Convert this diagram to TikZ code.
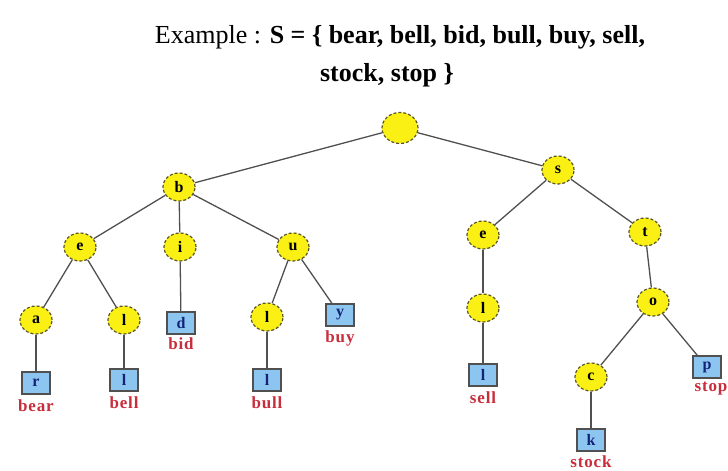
\documentclass[tikz,border=0pt]{standalone}
\usepackage{fontspec}
\setmainfont{Liberation Serif}
\usepackage{tikz}
\usepackage{xcolor}
\usetikzlibrary{positioning}
\usetikzlibrary{shapes.geometric}

\definecolor{nodeYellow}{RGB}{250,240,20}
\definecolor{nodeRim}{RGB}{90,85,40}
\definecolor{leafBlue}{RGB}{140,198,240}
\definecolor{leafText}{RGB}{20,35,120}
\definecolor{wordRed}{RGB}{200,45,60}
\definecolor{edgeGray}{RGB}{80,80,80}

\begin{document}
\begin{tikzpicture}[x=1pt, y=1pt]
            % Set primary nodes
            \tikzset{
                trieNode/.style={
                        ellipse,
                        draw=nodeRim,
                        densely dashed,
                        line width=1.2pt,
                        fill=nodeYellow,
                        minimum width=32pt,
                        minimum height=28pt,
                        inner sep=0pt,
                        font=\fontsize{16}{16}\selectfont\bfseries
                    }
            }
            \tikzset{
                leafNode/.style={
                        rectangle,
                        draw=edgeGray,
                        line width=1.2pt,
                        fill=leafBlue,
                        minimum width=28pt,
                        minimum height=22pt,
                        inner sep=0pt,
                        text=leafText,
                        font=\fontsize{16}{16}\selectfont\bfseries
                    }
            }
            \tikzset{
                wordNode/.style={
                        text=wordRed,
                        inner sep=0pt,
                        font=\fontsize{17}{17}\selectfont\bfseries\addfontfeature{LetterSpace=5}
                    }
            }
            % Configure edges
            \tikzstyle{edge} = [draw=edgeGray, line width=1.3pt]
            \useasboundingbox (0,0) rectangle (728,471);
            % Title
            \node[font=\fontsize{26}{26}\selectfont](titleTop) at (400,434){Example : \textbf{S = \{ bear, bell, bid, bull, buy, sell,}};
            \node[font=\fontsize{26}{26}\selectfont\bfseries](titleBottom) at (387,396){stock, stop \}};
            % Placing nodes
            \node[trieNode, minimum width=36pt, minimum height=31pt](root) at (400,343){};
            \node[trieNode](b) at (179,284){b};
            \node[trieNode](s) at (558,301){s};
            \node[trieNode](be) at (80,224){e};
            \node[trieNode](bi) at (180,224){i};
            \node[trieNode](bu) at (293,224){u};
            \node[trieNode](se) at (483,236){e};
            \node[trieNode](st) at (645,239){t};
            \node[trieNode](bea) at (36,151){a};
            \node[trieNode](bel) at (124,151){l};
            \node[leafNode](bid) at (181,148){d};
            \node[trieNode](bul) at (267,154){l};
            \node[leafNode](buy) at (340,156){y};
            \node[trieNode](sel) at (483,163){l};
            \node[trieNode](sto) at (653,169){o};
            \node[trieNode](stoc) at (591,94){c};
            \node[leafNode](stop) at (707,104){p};
            \node[leafNode](bear) at (36,88){r};
            \node[leafNode](bell) at (124,91){l};
            \node[leafNode](bull) at (267,91){l};
            \node[leafNode](sell) at (483,96){l};
            \node[leafNode](stock) at (591,31){k};
            % Words under leaves
            \node[wordNode, below = 5pt of bear](wordBear){bear};
            \node[wordNode, below = 5pt of bell](wordBell){bell};
            \node[wordNode, below = 3pt of bid](wordBid){bid};
            \node[wordNode, below = 5pt of bull](wordBull){bull};
            \node[wordNode, below = 4pt of buy](wordBuy){buy};
            \node[wordNode, below = 5pt of sell](wordSell){sell};
            \node[wordNode, below = 4pt of stock](wordStock){stock};
            \node[wordNode, below = 3pt of stop, xshift=4pt](wordStop){stop};
            % Draw edges
            \draw[edge](root) -- (b);
            \draw[edge](root) -- (s);
            \draw[edge](b) -- (be);
            \draw[edge](b) -- (bi);
            \draw[edge](b) -- (bu);
            \draw[edge](be) -- (bea);
            \draw[edge](be) -- (bel);
            \draw[edge](bi) -- (bid);
            \draw[edge](bu) -- (bul);
            \draw[edge](bu) -- (buy);
            \draw[edge](bea) -- (bear);
            \draw[edge](bel) -- (bell);
            \draw[edge](bul) -- (bull);
            \draw[edge](s) -- (se);
            \draw[edge](s) -- (st);
            \draw[edge](se) -- (sel);
            \draw[edge](sel) -- (sell);
            \draw[edge](st) -- (sto);
            \draw[edge](sto) -- (stoc);
            \draw[edge](sto) -- (stop);
            \draw[edge](stoc) -- (stock);
        \end{tikzpicture}
\end{document}
